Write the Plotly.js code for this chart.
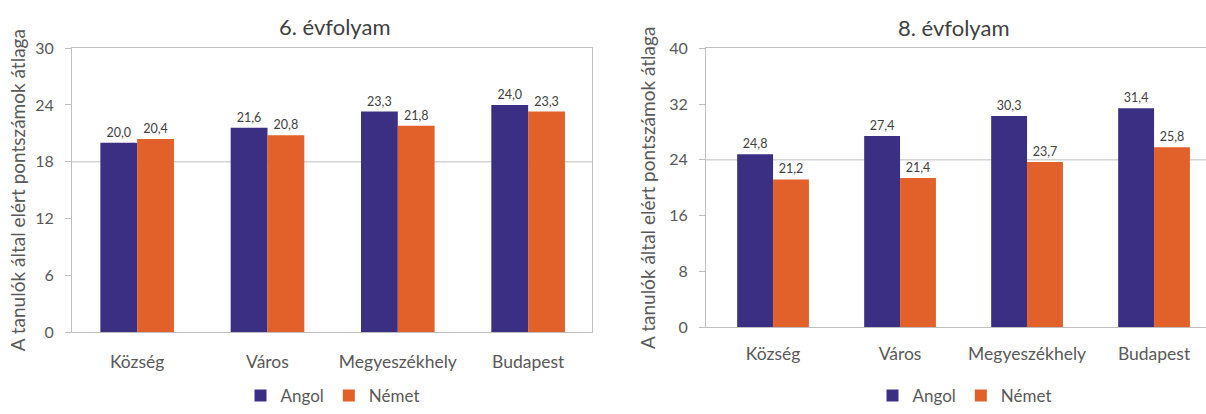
<!DOCTYPE html>
<html>
<head>
<meta charset="utf-8">
<script src="https://cdn.plot.ly/plotly-3.0.1.min.js"></script>
<style>html,body{margin:0;padding:0;background:#fff;}#chart{width:1206px;height:414px;}</style>
</head>
<body>
<div id="chart"></div>
<script>
// ---- data ----
const categories = ["Község", "Város", "Megyeszékhely", "Budapest"];
const seriesNames = ["Angol", "Német"];
const angol6 = [20.0, 21.6, 23.3, 24.0];
const nemet6 = [20.4, 20.8, 21.8, 23.3];
const angol8 = [24.8, 27.4, 30.3, 31.4];
const nemet8 = [21.2, 21.4, 23.7, 25.8];
const ticks6 = [0, 6, 12, 18, 24, 30];
const ticks8 = [0, 8, 16, 24, 32, 40];
const grid6 = [18];
const grid8 = [24];
const title6 = "6. évfolyam";
const title8 = "8. évfolyam";
const yTitle = "A tanulók által elért pontszámok átlaga";

const blue = "#3A2F82";
const orange = "#E2612A";
const FONT = "Lato, 'Liberation Sans', sans-serif";
const gray = "#595959";

function bar(y, name, color, xa, ya, leg) {
  return {
    type: "bar", x: categories, y: y, name: name,
    marker: {color: color, line: {width: 8, color: "rgba(0,0,0,0)"}},
    xaxis: xa, yaxis: ya, legend: leg,
    texttemplate: "%{y:.1f}", textposition: "outside", cliponaxis: false,
    textfont: {family: FONT, size: 12.5, color: "#404040"},
    hoverinfo: "x+y"
  };
}

const data = [
  bar(angol6, seriesNames[0], blue, "x", "y", "legend"),
  bar(nemet6, seriesNames[1], orange, "x", "y", "legend"),
  bar(angol8, seriesNames[0], blue, "x2", "y2", "legend2"),
  bar(nemet8, seriesNames[1], orange, "x2", "y2", "legend2")
];

const W = 1206, H = 414;
const lineCol = "#BFBFBF";

const legendCommon = {
  orientation: "h", xanchor: "center", yanchor: "middle",
  font: {size: 17, color: gray}, itemwidth: 30, tracegroupgap: 0,
  bgcolor: "rgba(0,0,0,0)"
};

const layout = {
  width: W, height: H,
  margin: {l: 0, r: 0, t: 0, b: 0},
  paper_bgcolor: "#fff", plot_bgcolor: "#fff",
  separators: ",.",
  barmode: "group", bargap: 0.435, bargroupgap: 0,
  font: {family: FONT, color: gray},
  xaxis: {
    domain: [72 / W, 592 / W], range: [-0.5, 3.49],
    showline: true, linecolor: lineCol, linewidth: 1, mirror: true,
    ticks: "", ticklabelstandoff: 14, tickfont: {size: 17.5, color: gray}, showgrid: false
  },
  yaxis: {
    domain: [1 - 338 / H, 1 - 49 / H], range: [0, 30],
    tickvals: ticks6, showgrid: false, zeroline: false,
    showline: true, linecolor: lineCol, linewidth: 1, mirror: true,
    ticks: "outside", ticklen: 6, tickcolor: lineCol, ticklabelstandoff: 8,
    tickfont: {size: 16, color: gray},
    title: {text: yTitle, font: {size: 19, color: gray}, standoff: 4}
  },
  xaxis2: {
    domain: [706 / W, 1], range: [-0.528, 3.409], anchor: "y2",
    showline: true, linecolor: lineCol, linewidth: 1, mirror: true,
    ticks: "", ticklabelstandoff: 11, tickfont: {size: 17.5, color: gray}, showgrid: false
  },
  yaxis2: {
    domain: [1 - 333 / H, 1 - 49 / H], range: [0, 40], anchor: "x2",
    tickvals: ticks8, showgrid: false, zeroline: false,
    showline: true, linecolor: lineCol, linewidth: 1, mirror: false,
    ticks: "outside", ticklen: 6, tickcolor: lineCol, ticklabelstandoff: 8,
    tickfont: {size: 16, color: gray},
    title: {text: yTitle, font: {size: 19, color: gray}, standoff: 8}
  },
  legend: Object.assign({x: 333 / W, y: 1 - 403 / H}, legendCommon),
  legend2: Object.assign({x: 965 / W, y: 1 - 403 / H}, legendCommon),
  shapes: [],
  annotations: [
    {text: title6, x: 334 / W, y: 1 - 27 / H, xref: "paper", yref: "paper",
     xanchor: "center", yanchor: "middle",
     showarrow: false, font: {size: 22, color: "#404040", family: FONT}},
    {text: title8, x: 954 / W, y: 1 - 28 / H, xref: "paper", yref: "paper",
     xanchor: "center", yanchor: "middle",
     showarrow: false, font: {size: 22, color: "#404040", family: FONT}}
  ]
};

grid6.forEach(v => layout.shapes.push({type: "line", xref: "x domain", yref: "y", x0: 0, x1: 1, y0: v, y1: v, line: {color: lineCol, width: 1}, layer: "below"}));
grid8.forEach(v => layout.shapes.push({type: "line", xref: "x2 domain", yref: "y2", x0: 0, x1: 1, y0: v, y1: v, line: {color: lineCol, width: 1}, layer: "below"}));

Plotly.newPlot("chart", data, layout, {staticPlot: true, displayModeBar: false});
</script>
</body>
</html>
